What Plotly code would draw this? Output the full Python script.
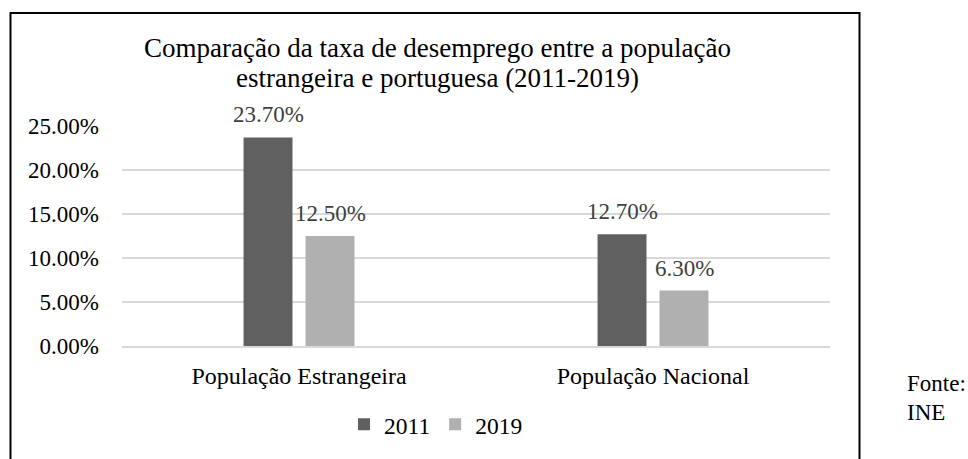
import plotly.graph_objects as go

categories = ["População Estrangeira", "População Nacional"]
series_names = ["2011", "2019"]
values_2011 = [23.7, 12.7]
values_2019 = [12.5, 6.3]
y_ticks = [0, 5, 10, 15, 20, 25]
title_lines = ["Comparação da taxa de desemprego entre a população",
               "estrangeira e portuguesa (2011-2019)"]
source_lines = ["Fonte:", "INE"]

W, H = 968, 459
ML, MR, MT, MB = 122, 138, 126, 109
PW = W - ML - MR
PH = H - MT - MB

def sx(X):
    return (X - ML) / PW

def sy(Y):
    return (H - MB - Y) / PH

FONT = "Liberation Serif, Times New Roman, serif"
colors = ["#606060", "#b0b0b0"]

fig = go.Figure()
for name, vals, col in zip(series_names, [values_2011, values_2019], colors):
    fig.add_trace(go.Bar(x=categories, y=vals, name=name, marker=dict(color=col, line=dict(width=0)),
                         hoverinfo="skip"))

annotations = []
for vals, shift in zip([values_2011, values_2019], [-31, 31]):
    for c, v in zip(categories, vals):
        annotations.append(dict(x=c, y=v, xref="x", yref="y", text=f"{v:.2f}%", showarrow=False,
                                xshift=shift, yshift=8, yanchor="bottom",
                                font=dict(family=FONT, size=23, color="#404040")))

for line, yc in zip(title_lines, [47, 77]):
    annotations.append(dict(x=sx(437.5), y=sy(yc), xref="paper", yref="paper", text=line,
                            showarrow=False, xanchor="center", yanchor="middle",
                            font=dict(family=FONT, size=27, color="#000000")))
for line, yc in zip(source_lines, [388, 418]):
    annotations.append(dict(x=sx(907), y=sy(yc), xref="paper", yref="paper", text=line,
                            showarrow=False, xanchor="left", yanchor="middle", xshift=-2,
                            font=dict(family=FONT, size=23, color="#000000")))

fig.update_layout(
    width=W, height=H,
    margin=dict(l=ML, r=MR, t=MT, b=MB, pad=0),
    paper_bgcolor="white", plot_bgcolor="white",
    barmode="group", bargap=0.65, bargroupgap=0.21,
    font=dict(family=FONT, size=23, color="#000000"),
    showlegend=True,
    legend=dict(orientation="h", x=sx(436), xanchor="center", y=sy(430), yanchor="middle",
                font=dict(family=FONT, size=23.5, color="#000000"), bgcolor="rgba(0,0,0,0)"),
    xaxis=dict(showgrid=False, showline=True, linecolor="#d9d9d9", linewidth=1.5, ticks="",
               ticklabelstandoff=8,
               tickfont=dict(family=FONT, size=24, color="#000000")),
    yaxis=dict(range=[0, 25], tickvals=y_ticks, ticktext=[f"{t:.2f}%" for t in y_ticks],
               showgrid=True, gridcolor="#d9d9d9", gridwidth=1.5, zeroline=False, showline=False,
               ticks="", ticklabelstandoff=22,
               tickfont=dict(family=FONT, size=23, color="#000000")),
    annotations=annotations,
    shapes=[dict(type="rect", xref="paper", yref="paper", x0=sx(10.5), x1=sx(859.5),
                 y0=sy(480), y1=sy(11), line=dict(color="#000000", width=2), layer="above")],
)

fig.write_html("out.html", config={"displayModeBar": False, "staticPlot": True},
               post_script="document.body.style.margin='0';document.body.style.overflow='hidden';")
